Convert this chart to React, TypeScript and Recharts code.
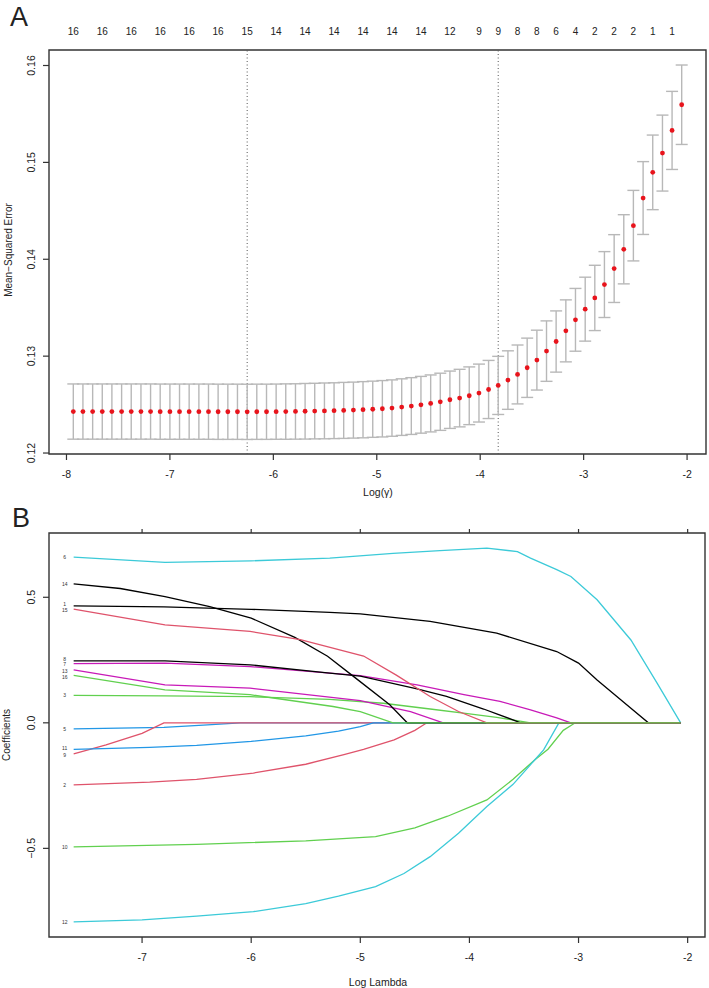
import React from 'react';
import {
  ComposedChart,
  LineChart,
  Line,
  Scatter,
  ErrorBar,
  XAxis,
  YAxis,
  ReferenceArea,
  ReferenceLine,
} from 'recharts';

// ---------- panel A: cross-validated mean-squared error ----------
const logGamma = [
  -7.934, -7.841, -7.747, -7.654, -7.561, -7.467, -7.374, -7.280, -7.187, -7.094,
  -7.000, -6.907, -6.814, -6.720, -6.627, -6.534, -6.440, -6.347, -6.253, -6.160,
  -6.066, -5.973, -5.880, -5.786, -5.693, -5.600, -5.506, -5.413, -5.320, -5.226,
  -5.133, -5.039, -4.946, -4.853, -4.759, -4.666, -4.573, -4.479, -4.386, -4.293,
  -4.199, -4.106, -4.012, -3.919, -3.826, -3.732, -3.639, -3.546, -3.452, -3.359,
  -3.266, -3.172, -3.079, -2.985, -2.892, -2.799, -2.705, -2.612, -2.519, -2.425,
  -2.332, -2.238, -2.145, -2.052,
];

const cvMean = [
  0.12428, 0.12428, 0.12428, 0.12428, 0.12428, 0.12428, 0.12428, 0.12428, 0.12428, 0.12427,
  0.12427, 0.12427, 0.12427, 0.12427, 0.12427, 0.12426, 0.12426, 0.12426, 0.12425, 0.12426,
  0.12426, 0.12427, 0.12428, 0.12429, 0.12431, 0.12433, 0.12435, 0.12437, 0.1244, 0.12443,
  0.12447, 0.12452, 0.12457, 0.12464, 0.12474, 0.12485, 0.12498, 0.12512, 0.12529, 0.1255,
  0.12567, 0.12591, 0.12619, 0.12656, 0.12698, 0.12753, 0.12811, 0.1288, 0.12959, 0.13052,
  0.13151, 0.13261, 0.13375, 0.13485, 0.13601, 0.13739, 0.13904, 0.14103, 0.14347, 0.14632,
  0.14897, 0.15096, 0.1533, 0.15595,
];

const cvSe = [
  0.00285, 0.00285, 0.00285, 0.00285, 0.00285, 0.00285, 0.00285, 0.00285, 0.00285, 0.00285,
  0.00285, 0.00285, 0.00285, 0.00285, 0.00285, 0.00285, 0.00285, 0.00285, 0.00285, 0.00285,
  0.00285, 0.00285, 0.00286, 0.00286, 0.00287, 0.00287, 0.00288, 0.00288, 0.00289, 0.00289,
  0.0029, 0.0029, 0.00291, 0.00291, 0.00292, 0.00293, 0.00293, 0.00294, 0.00295, 0.00296,
  0.00297, 0.00298, 0.00299, 0.003, 0.003, 0.00302, 0.00304, 0.00306, 0.00309, 0.00312,
  0.00316, 0.0032, 0.00324, 0.0033, 0.00337, 0.0034, 0.0035, 0.00357, 0.00364, 0.00376,
  0.00385, 0.00392, 0.00403, 0.0041,
];

// number of non-zero coefficients printed along the top
const nzeroIdx = [0, 3, 6, 9, 12, 15, 18, 21, 24, 27, 30, 33, 36, 39, 42, 44, 46, 48, 50, 52, 54, 56, 58, 60, 62];
const nzeroText = ['16', '16', '16', '16', '16', '16', '15', '14', '14', '14', '14', '14', '14', '12', '9', '9', '8', '8', '6', '4', '2', '2', '2', '1', '1'];

const gammaTicks = [-8, -7, -6, -5, -4, -3, -2];
const mseTicks = [0.12, 0.13, 0.14, 0.15, 0.16];
const lambdaMin = -6.253;
const lambda1se = -3.826;

// ---------- panel B: coefficient paths ----------
type Pt = [number, number];
const coef1: Pt[] = [[-7.627, 0.466], [-6.8, 0.462], [-6.0, 0.452], [-5.28, 0.44], [-5.0, 0.434], [-4.36, 0.404], [-3.75, 0.357], [-3.2, 0.284], [-3.0, 0.238], [-2.83, 0.171], [-2.52, 0.058], [-2.36, 0], [-2.064, 0]];
const coef2: Pt[] = [[-7.627, -0.247], [-6.93, -0.236], [-6.5, -0.225], [-5.98, -0.2], [-5.5, -0.165], [-5.15, -0.127], [-4.97, -0.106], [-4.69, -0.068], [-4.5, -0.03], [-4.39, 0], [-2.064, 0]];
const coef3: Pt[] = [[-7.627, 0.109], [-6.8, 0.107], [-6.01, 0.104], [-5.28, 0.093], [-4.79, 0.078], [-4.36, 0.055], [-4.0, 0.036], [-3.75, 0.022], [-3.44, 0], [-2.064, 0]];
const coef5: Pt[] = [[-7.627, -0.024], [-6.8, -0.018], [-6.4, -0.008], [-6.1, 0], [-2.064, 0]];
const coef6: Pt[] = [[-7.627, 0.66], [-6.79, 0.639], [-6.0, 0.645], [-5.28, 0.656], [-4.7, 0.675], [-4.27, 0.686], [-3.84, 0.696], [-3.56, 0.682], [-3.44, 0.656], [-3.2, 0.61], [-3.07, 0.583], [-2.83, 0.49], [-2.52, 0.33], [-2.28, 0.158], [-2.064, 0]];
const coef7: Pt[] = [[-7.627, 0.236], [-6.79, 0.238], [-6.01, 0.224], [-5.0, 0.188], [-4.48, 0.151], [-4.05, 0.112], [-3.72, 0.085], [-3.44, 0.052], [-3.2, 0.02], [-3.07, 0], [-2.064, 0]];
const coef8: Pt[] = [[-7.627, 0.247], [-6.79, 0.247], [-6.01, 0.231], [-5.28, 0.198], [-5.0, 0.186], [-4.48, 0.135], [-4.21, 0.105], [-3.87, 0.055], [-3.75, 0.036], [-3.53, 0], [-2.064, 0]];
const coef9: Pt[] = [[-7.627, -0.124], [-7.33, -0.088], [-7.0, -0.042], [-6.8, 0], [-2.064, 0]];
const coef10: Pt[] = [[-7.627, -0.494], [-6.5, -0.484], [-5.5, -0.47], [-4.86, -0.453], [-4.5, -0.418], [-4.2, -0.372], [-3.84, -0.307], [-3.6, -0.225], [-3.4, -0.147], [-3.28, -0.105], [-3.14, -0.03], [-3.03, 0], [-2.064, 0]];
const coef11: Pt[] = [[-7.627, -0.106], [-6.93, -0.098], [-6.5, -0.09], [-6.0, -0.074], [-5.5, -0.052], [-5.2, -0.033], [-5.0, -0.015], [-4.88, 0], [-2.064, 0]];
const coef12: Pt[] = [[-7.627, -0.793], [-7.0, -0.785], [-6.5, -0.77], [-5.98, -0.752], [-5.5, -0.72], [-5.2, -0.69], [-4.86, -0.652], [-4.6, -0.6], [-4.36, -0.533], [-4.1, -0.44], [-3.84, -0.333], [-3.6, -0.245], [-3.4, -0.147], [-3.32, -0.108], [-3.18, 0], [-2.064, 0]];
const coef13: Pt[] = [[-7.627, 0.211], [-6.79, 0.151], [-6.01, 0.138], [-5.0, 0.088], [-4.54, 0.045], [-4.24, 0], [-2.064, 0]];
const coef14: Pt[] = [[-7.627, 0.553], [-7.2, 0.535], [-6.79, 0.503], [-6.38, 0.463], [-6.0, 0.417], [-5.6, 0.34], [-5.3, 0.265], [-5.06, 0.184], [-4.73, 0.072], [-4.57, 0], [-2.064, 0]];
const coef15: Pt[] = [[-7.627, 0.453], [-6.79, 0.39], [-6.01, 0.364], [-5.55, 0.331], [-4.97, 0.266], [-4.67, 0.19], [-4.36, 0.105], [-4.1, 0.045], [-3.84, 0], [-2.064, 0]];
const coef16: Pt[] = [[-7.627, 0.189], [-6.79, 0.131], [-6.01, 0.112], [-5.25, 0.065], [-5.0, 0.045], [-4.7, 0], [-2.064, 0]];

const lambdaTicks = [-7, -6, -5, -4, -3, -2];
const coefTicks = [-0.5, 0, 0.5];

const BLACK = '#000000';
const RED = '#DF536B';
const GREEN = '#61D04F';
const BLUE = '#2297E6';
const CYAN = '#3CCAD8';
const MAGENTA = '#C81AB8';

// drawn in variable order so the later ones sit on top along zero;
// nudge keeps the crowded start labels from sitting on each other
const paths = [
  { name: '1', color: BLACK, pts: coef1, nudge: -2 },
  { name: '2', color: RED, pts: coef2, nudge: 0 },
  { name: '3', color: GREEN, pts: coef3, nudge: 0 },
  { name: '5', color: BLUE, pts: coef5, nudge: 0 },
  { name: '6', color: CYAN, pts: coef6, nudge: 0 },
  { name: '7', color: MAGENTA, pts: coef7, nudge: 1 },
  { name: '8', color: BLACK, pts: coef8, nudge: -2 },
  { name: '9', color: RED, pts: coef9, nudge: 1 },
  { name: '10', color: GREEN, pts: coef10, nudge: 0 },
  { name: '11', color: BLUE, pts: coef11, nudge: -1 },
  { name: '12', color: CYAN, pts: coef12, nudge: 0 },
  { name: '13', color: MAGENTA, pts: coef13, nudge: 1.5 },
  { name: '14', color: BLACK, pts: coef14, nudge: 0 },
  { name: '15', color: RED, pts: coef15, nudge: 1.5 },
  { name: '16', color: GREEN, pts: coef16, nudge: 2 },
];

const FONT = '"Liberation Sans", Arial, Helvetica, sans-serif';
const INK = '#222';
const A_X: [number, number] = [-8.169, -1.817];
const A_Y: [number, number] = [0.1199, 0.1616];
const B_X: [number, number] = [-7.853, -1.841];
const B_Y: [number, number] = [-0.853, 0.756];

const cvRows = logGamma.map((x, i) => ({ x, mse: cvMean[i], se: cvSe[i] }));

const fmtCoef = (v: number) => (v < 0 ? '\u2212' + Math.abs(v).toFixed(1) : v.toFixed(1));

const RotTick = (props: any) => {
  const { x, y, payload, fmt } = props;
  const bx = x - 6;
  return (
    <text x={bx} y={y} transform={`rotate(-90, ${bx}, ${y})`} textAnchor="middle" fontSize={10.5} fill={INK} fontFamily={FONT}>
      {fmt(payload.value)}
    </text>
  );
};

const TopCount = (props: any) => (
  <text x={props.x} y={props.y} textAnchor="middle" fontSize={10} fill={INK} fontFamily={FONT}>
    {nzeroText[props.index]}
  </text>
);

const PathLabel = (name: string, nudge: number) => (props: any) => {
  if (props.index !== 0) return null;
  return (
    <text x={props.x - 9} y={props.y + 1.8 + nudge} textAnchor="middle" fontSize={5} fill="#333" fontFamily={FONT}>
      {name}
    </text>
  );
};

const Title = ({ x, y, text, size, rotate }: { x: number; y: number; text: string; size: number; rotate?: boolean }) => (
  <div
    style={{
      position: 'absolute',
      left: x - 150,
      top: y - size * 0.6,
      width: 300,
      height: size * 1.2,
      lineHeight: `${size * 1.2}px`,
      textAlign: 'center',
      fontSize: size,
      fontFamily: FONT,
      color: INK,
      transform: rotate ? 'rotate(-90deg)' : undefined,
      whiteSpace: 'nowrap',
    }}
  >
    {text}
  </div>
);

export default function App() {
  return (
    <div style={{ position: 'absolute', left: 0, top: 0, width: 709, height: 988, background: '#fff', overflow: 'hidden' }}>
      <div style={{ position: 'absolute', left: 0, top: 0 }}>
        <ComposedChart width={709} height={500} data={cvRows} margin={{ top: 30, right: 3, bottom: 0, left: 0 }}>
          <XAxis
            xAxisId="top"
            orientation="top"
            type="number"
            dataKey="x"
            domain={A_X}
            allowDataOverflow
            ticks={nzeroIdx.map((i) => logGamma[i])}
            interval={0}
            height={20}
            axisLine={false}
            tickLine={false}
            tickSize={0}
            tickMargin={15}
            tick={<TopCount />}
          />
          <XAxis
            type="number"
            dataKey="x"
            domain={A_X}
            allowDataOverflow
            ticks={gammaTicks}
            interval={0}
            height={46}
            axisLine={false}
            tickLine={{ stroke: '#333', strokeWidth: 1.2 }}
            tickSize={6}
            tickMargin={11}
            tick={{ fill: INK, fontSize: 10.5, fontFamily: FONT }}
          />
          <YAxis
            type="number"
            domain={A_Y}
            allowDataOverflow
            ticks={mseTicks}
            interval={0}
            width={49}
            axisLine={false}
            tickLine={{ stroke: '#333', strokeWidth: 1.2 }}
            tickSize={6}
            tick={<RotTick fmt={(v: number) => v.toFixed(2)} />}
          />
          <ReferenceArea x1={A_X[0]} x2={A_X[1]} y1={A_Y[0]} y2={A_Y[1]} fill="none" stroke="#333" strokeWidth={1.4} />
          <ReferenceLine x={lambdaMin} stroke="#555" strokeDasharray="1 2.5" />
          <ReferenceLine x={lambda1se} stroke="#555" strokeDasharray="1 2.5" />
          <Scatter
            dataKey="mse"
            isAnimationActive={false}
            shape={(p: any) => <circle cx={p.cx} cy={p.cy} r={2.4} fill="#E8141C" />}
          >
            <ErrorBar dataKey="se" direction="y" width={6} stroke="#B8B8B8" strokeWidth={1.4} isAnimationActive={false} />
          </Scatter>
        </ComposedChart>
      </div>

      <div style={{ position: 'absolute', left: 0, top: 500 }}>
        <LineChart width={709} height={488} margin={{ top: 23, right: 4, bottom: 0, left: 0 }}>
          <XAxis
            xAxisId="top"
            orientation="top"
            type="number"
            dataKey="x"
            domain={B_X}
            allowDataOverflow
            ticks={lambdaTicks}
            interval={0}
            height={10}
            axisLine={false}
            tickLine={{ stroke: '#333', strokeWidth: 1.2 }}
            tickSize={4}
            tick={() => <g />}
          />
          <XAxis
            type="number"
            dataKey="x"
            domain={B_X}
            allowDataOverflow
            ticks={lambdaTicks}
            interval={0}
            height={51}
            axisLine={false}
            tickLine={{ stroke: '#333', strokeWidth: 1.2 }}
            tickSize={6}
            tickMargin={11}
            tick={{ fill: INK, fontSize: 10.5, fontFamily: FONT }}
          />
          <YAxis
            type="number"
            domain={B_Y}
            allowDataOverflow
            ticks={coefTicks}
            interval={0}
            width={49}
            axisLine={false}
            tickLine={{ stroke: '#333', strokeWidth: 1.2 }}
            tickSize={6}
            tick={<RotTick fmt={fmtCoef} />}
          />
          <ReferenceArea x1={B_X[0]} x2={B_X[1]} y1={B_Y[0]} y2={B_Y[1]} fill="none" stroke="#333" strokeWidth={1.4} />
          {paths.map((p) => (
            <Line
              key={p.name}
              data={p.pts.map(([x, y]) => ({ x, y }))}
              dataKey="y"
              type="linear"
              stroke={p.color}
              strokeWidth={1.3}
              dot={false}
              activeDot={false}
              isAnimationActive={false}
              label={PathLabel(p.name, p.nudge)}
            />
          ))}
        </LineChart>
      </div>

      <Title x={19} y={17} text="A" size={27} />
      <Title x={21} y={518} text="B" size={27} />
      <Title x={378} y={492} text="Log(γ)" size={10.5} />
      <Title x={378} y={982} text="Log Lambda" size={10.5} />
      <Title x={9} y={250} text="Mean−Squared Error" size={10} rotate />
      <Title x={7} y={735} text="Coefficients" size={10} rotate />
    </div>
  );
}
